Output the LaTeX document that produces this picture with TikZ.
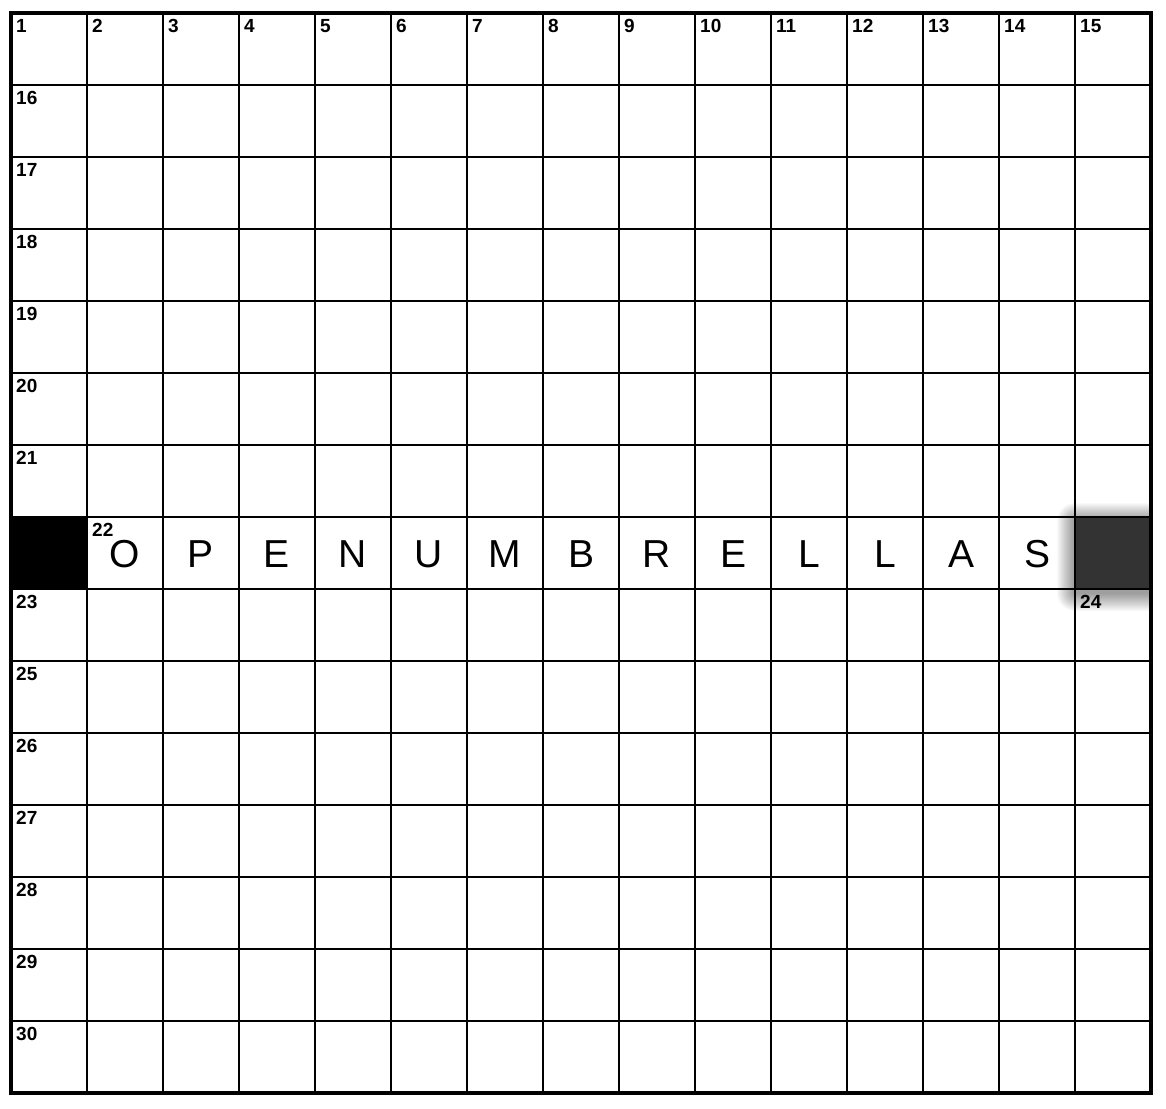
\documentclass[tikz,border=0pt]{standalone}
\usepackage{fontspec}
\setmainfont{Liberation Sans}
\usetikzlibrary{calc}
\tikzset{
  gridline/.style={line width=2pt, black},
  frameline/.style={line width=4pt, black},
  num/.style={anchor=north west, inner sep=0pt, font=\fontsize{19}{19}\selectfont\bfseries},
  letter/.style={anchor=center, inner sep=0pt, font=\fontsize{39}{39}\selectfont},
  blockcell/.style={fill=black},
  darkcell/.style={fill=black!80},
}
\begin{document}
\begin{tikzpicture}[x=1pt,y=-1pt]
\useasboundingbox[fill=white] (0,0) rectangle (1166,1108);
% cell corners
\foreach \c in {0,...,15}{
  \foreach \r in {0,...,15}{
    \coordinate (p-\c-\r) at ({11+76*\c},{13+72*\r});
  }
}
% block cells
\fill[blockcell] (p-0-7) rectangle (p-1-8);
% shadow of the dark cell, kept inside the grid
\begin{scope}
  \clip (p-0-0) rectangle (p-15-15);
  \foreach \k in {1,...,18}{
    \fill[black, opacity=0.022, rounded corners=\k pt]
      ($(p-14-7)+(-\k,-\k+4)$) rectangle ($(p-15-8)+(\k,\k+4)$);
  }
\end{scope}
\fill[darkcell] (p-14-7) rectangle (p-15-8);
% grid lines
\foreach \c in {1,...,14}{
  \draw[gridline] (p-\c-0) -- (p-\c-15);
}
\foreach \r in {1,...,14}{
  \draw[gridline] (p-0-\r) -- (p-15-\r);
}
\draw[frameline] (p-0-0) rectangle (p-15-15);
% numbers
\foreach \c [evaluate=\c as \n using int(\c+1)] in {0,...,14}{
  \node[num] (n\n) at ($(p-\c-0)+(5,6)$) {\n};
}
\foreach \r/\n in {1/16,2/17,3/18,4/19,5/20,6/21,8/23,9/25,10/26,11/27,12/28,13/29,14/30}{
  \node[num] (n\n) at ($(p-0-\r)+(5,6)$) {\n};
}
\node[num] (n22) at ($(p-1-7)+(5,6)$) {22};
\node[num] (n24) at ($(p-14-8)+(5,6)$) {24};
% letters
\foreach \L [count=\i] in {O,P,E,N,U,M,B,R,E,L,L,A,S}{
  \node[letter] (L\i) at ($(p-\i-7)+(38,37)$) {\L};
}
\end{tikzpicture}
\end{document}
